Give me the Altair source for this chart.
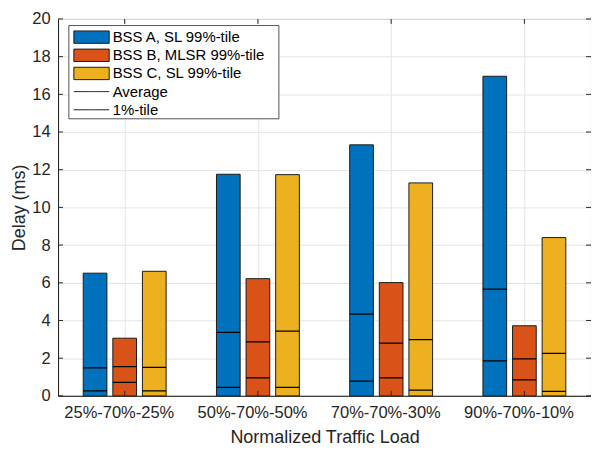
import json
import altair as alt
import pandas as pd

# ---- data ----
categories = ["25%-70%-25%", "50%-70%-50%", "70%-70%-30%", "90%-70%-10%"]
series = ["BSS A, SL 99%-tile", "BSS B, MLSR 99%-tile", "BSS C, SL 99%-tile"]
colors = ["#0072BD", "#D95319", "#EDB120"]

p99_A = [6.51, 11.76, 13.32, 16.96]
p99_B = [3.06, 6.22, 6.01, 3.72]
p99_C = [6.61, 11.74, 11.30, 8.40]

avg_A = [1.49, 3.37, 4.34, 5.66]
avg_B = [1.55, 2.86, 2.80, 1.96]
avg_C = [1.51, 3.43, 2.99, 2.25]

p1_A = [0.26, 0.45, 0.78, 1.86]
p1_B = [0.71, 0.95, 0.95, 0.85]
p1_C = [0.26, 0.45, 0.30, 0.24]

stat_names = ["Average", "1%-tile"]
y_ticks = list(range(0, 21, 2))
x_ticks = [1, 2, 3, 4]

# ---- build long table ----
rows = []
for s_i, (name, p99, avg, p1) in enumerate(
    zip(series, [p99_A, p99_B, p99_C], [avg_A, avg_B, avg_C], [p1_A, p1_B, p1_C])
):
    for c_i in range(len(categories)):
        rows.append({"cat": c_i + 1, "s": s_i, "series": name,
                     "p99": p99[c_i], "avg": avg[c_i], "p1": p1[c_i]})
df = pd.DataFrame(rows)

W, H = 543, 384
FONT = "Liberation Sans"
AX = "#262626"

xscale = alt.Scale(domain=[0.5, 4.5], nice=False, zero=False)
yscale = alt.Scale(domain=[0, 20], nice=False)

label_expr = "%s[datum.value - 1]" % json.dumps(categories)

X_AXIS = alt.Axis(values=x_ticks, labelExpr=label_expr,
                  title="Normalized Traffic Load", tickSize=0,
                  labelPadding=9, titlePadding=8, labelOffset=-6,
                  grid=True, labelFlush=False, labelOverlap=False)
Y_AXIS = alt.Axis(values=y_ticks, title="Delay (ms)", tickSize=0,
                  labelPadding=8, titlePadding=4, grid=True,
                  labelOverlap=False)

base = alt.Chart(df).transform_calculate(
    x0="datum.cat + (datum.s - 1) * 0.2222 - 0.0889",
    x1="datum.cat + (datum.s - 1) * 0.2222 + 0.0889",
    zero="0",
)

bars = base.mark_rect(stroke="#1a1a1a", strokeWidth=1).encode(
    x=alt.X("x0:Q", scale=xscale, axis=X_AXIS),
    x2="x1:Q",
    y=alt.Y("zero:Q", scale=yscale, axis=Y_AXIS),
    y2="p99:Q",
    fill=alt.Fill("series:N", scale=alt.Scale(domain=series, range=colors),
                  legend=alt.Legend(
                      title=None, orient="none", legendX=24.6, legendY=9,
                      symbolType="M-2,-0.7H2V0.7H-2Z", symbolSize=324,
                      symbolStrokeColor="#1a1a1a", symbolStrokeWidth=1,
                      symbolOpacity=1, labelFontSize=15.2, labelFont=FONT,
                      labelColor="#000000", labelOffset=12, rowPadding=0.5,
                      padding=0)),
)

avg_rule = base.transform_calculate(stat="'Average'").mark_rule(
    color="black", strokeWidth=1.3).encode(
    x=alt.X("x0:Q", scale=xscale, axis=X_AXIS), x2="x1:Q",
    y=alt.Y("avg:Q", scale=yscale, axis=Y_AXIS),
    strokeDash=alt.StrokeDash("stat:N", scale=alt.Scale(domain=stat_names, range=[[1, 0], [1, 0]]),
                              legend=alt.Legend(
                                  title=None, orient="none", legendX=24.6, legendY=64.5,
                                  symbolType="M-2,0H2", symbolSize=324,
                                  symbolStrokeColor="#000000", symbolStrokeWidth=1,
                                  labelFontSize=15.2, labelFont=FONT, labelColor="#000000",
                                  labelOffset=12, rowPadding=0.5, padding=0)),
)
p1_rule = base.transform_calculate(stat="'1%-tile'").mark_rule(
    color="black", strokeWidth=1.3).encode(
    x=alt.X("x0:Q", scale=xscale, axis=X_AXIS), x2="x1:Q",
    y=alt.Y("p1:Q", scale=yscale, axis=Y_AXIS),
    strokeDash=alt.StrokeDash("stat:N"),
)

# legend frame (white box behind the legends)
frame = alt.Chart(pd.DataFrame({"k": [0]})).mark_rect(
    fill="white", stroke=AX, strokeWidth=0.8).encode(
    x=alt.value(11), x2=alt.value(225), y=alt.value(6.7), y2=alt.value(101.7))

# inside ticks (MATLAB style)
ydf = pd.DataFrame({"v": y_ticks})
xdf = pd.DataFrame({"v": x_ticks})
tick_l = alt.Chart(ydf).mark_rule(color=AX, strokeWidth=1).encode(
    y=alt.Y("v:Q", scale=yscale, axis=Y_AXIS), x=alt.value(0), x2=alt.value(5))
tick_r = alt.Chart(ydf).mark_rule(color=AX, strokeWidth=1).encode(
    y=alt.Y("v:Q", scale=yscale, axis=Y_AXIS), x=alt.value(W - 5), x2=alt.value(W))
tick_b = alt.Chart(xdf).mark_rule(color=AX, strokeWidth=1).encode(
    x=alt.X("v:Q", scale=xscale, axis=X_AXIS), y=alt.value(H - 5), y2=alt.value(H))
tick_t = alt.Chart(xdf).mark_rule(color=AX, strokeWidth=1).encode(
    x=alt.X("v:Q", scale=xscale, axis=X_AXIS), y=alt.value(0), y2=alt.value(5))

chart = alt.layer(bars, avg_rule, p1_rule, frame, tick_l, tick_r, tick_b, tick_t).properties(
    width=W, height=H,
    autosize=alt.AutoSizeParams(type="none"),
    padding={"left": 51, "top": 7, "right": 0, "bottom": 52},
).configure_view(
    stroke=AX, strokeWidth=1
).configure_axis(
    domainColor=AX, labelColor=AX, titleColor=AX, labelFont=FONT, titleFont=FONT,
    labelFontSize=16.8, titleFontSize=18.3, titleFontWeight="normal",
    gridColor="#e3e3e3", gridWidth=1, domainWidth=1,
).configure_legend(
    fillColor="transparent"
)

chart.save("out.html", embed_options={"renderer": "svg", "actions": False})
